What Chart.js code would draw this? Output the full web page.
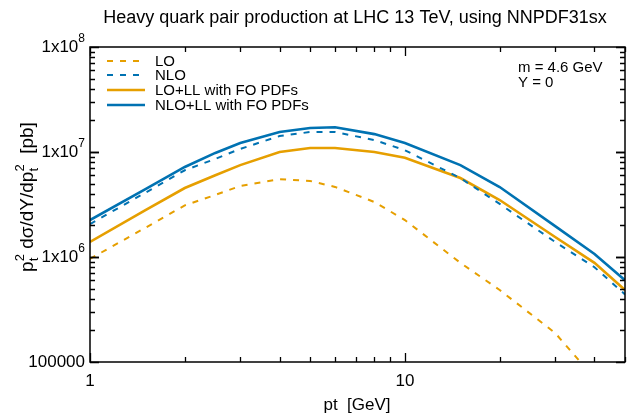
<!DOCTYPE html>
<html>
<head>
<meta charset="utf-8">
<script src="https://cdn.jsdelivr.net/npm/chart.js@4/dist/chart.umd.min.js"></script>
<style>
  html, body { margin: 0; padding: 0; background: #fff; }
  #wrap { width: 627px; height: 417px; }
</style>
</head>
<body>
<div id="wrap"><canvas id="ptChart" width="627" height="417"></canvas></div>
<script>
// pt points [GeV]
var ptValues = [1, 1.5, 2, 2.5, 3, 4, 5, 6, 8, 10, 15, 20, 30, 40, 50];

// p_t^2 dsigma/dY/dp_t^2 [pb]
var loValues    = [9.6e5, 1.9e6, 3.1e6, 3.9e6, 4.75e6, 5.5e6, 5.3e6, 4.65e6, 3.34e6, 2.25e6, 8.8e5, 4.85e5, 1.89e5, 7.0e4, 3.4e4];
var nloValues   = [2.06e6, 4.1e6, 6.7e6, 8.6e6, 1.07e7, 1.42e7, 1.55e7, 1.55e7, 1.3e7, 1.04e7, 5.65e6, 3.2e6, 1.39e6, 8.0e5, 4.4e5];
var loLLValues  = [1.39e6, 2.8e6, 4.54e6, 6.0e6, 7.5e6, 1.0e7, 1.09e7, 1.09e7, 1.0e7, 8.8e6, 5.65e6, 3.49e6, 1.55e6, 8.8e5, 4.85e5];
var nloLLValues = [2.25e6, 4.44e6, 7.2e6, 9.8e6, 1.22e7, 1.55e7, 1.69e7, 1.72e7, 1.48e7, 1.22e7, 7.5e6, 4.64e6, 1.97e6, 1.07e6, 6.0e5];

var seriesNames = ["LO", "NLO", "LO+LL with FO PDFs", "NLO+LL with FO PDFs"];

var xTickLabels = ["1", "10"];
var yTickValues = [1e5, 1e6, 1e7, 1e8];
var yTickExps = ["", "6", "7", "8"];

var orange = "#E69F00";
var blue = "#0072B2";
var FONT = "'Liberation Sans', Arial, sans-serif";

function pts(vals) {
    return ptValues.map(function(x, i) { return {x: x, y: vals[i]}; });
}

// ticks, box, labels, legend drawn by hand (gnuplot style)
var decor = {
    id: 'decor',
    afterDatasetsDraw: function(chart) {
        var ctx = chart.ctx, a = chart.chartArea;
        var xs = chart.scales.x, ys = chart.scales.y;
        ctx.save();

        // frame
        ctx.strokeStyle = "#000";
        ctx.lineWidth = 1.5;
        ctx.strokeRect(a.left, a.top, a.right - a.left, a.bottom - a.top);

        // y ticks
        ctx.lineWidth = 1.3;
        for (var e = 5; e < 8; e++) {
            for (var m = 1; m <= 10; m++) {
                var v = m * Math.pow(10, e);
                var py = Math.round(ys.getPixelForValue(v)) + 0.5;
                var len = (m === 1 || m === 10) ? 9 : 5;
                ctx.beginPath();
                ctx.moveTo(a.left, py); ctx.lineTo(a.left + len, py);
                ctx.moveTo(a.right, py); ctx.lineTo(a.right - len, py);
                ctx.stroke();
            }
        }
        // x ticks
        var xt = [1, 2, 3, 4, 5, 6, 7, 8, 9, 10, 20, 30, 40, 50];
        xt.forEach(function(v) {
            var px = Math.round(xs.getPixelForValue(v)) + 0.5;
            var len = (v === 1 || v === 10) ? 9 : 5;
            ctx.beginPath();
            ctx.moveTo(px, a.bottom); ctx.lineTo(px, a.bottom - len);
            ctx.moveTo(px, a.top); ctx.lineTo(px, a.top + len);
            ctx.stroke();
        });

        ctx.fillStyle = "#000";
        // x tick labels
        ctx.font = "17px " + FONT;
        ctx.textAlign = "center";
        ctx.textBaseline = "middle";
        [1, 10].forEach(function(v, i) {
            ctx.fillText(xTickLabels[i], xs.getPixelForValue(v), a.bottom + 19);
        });

        // y tick labels with superscript exponent
        yTickValues.forEach(function(v, i) {
            var py = ys.getPixelForValue(v);
            var right = a.left - 5;
            ctx.textBaseline = "middle";
            if (yTickExps[i] === "") {
                ctx.font = "17px " + FONT;
                ctx.textAlign = "right";
                ctx.fillText("100000", right, py);
            } else {
                ctx.font = "12px " + FONT;
                ctx.textAlign = "right";
                var ew = ctx.measureText(yTickExps[i]).width;
                ctx.fillText(yTickExps[i], right, py - 8);
                ctx.font = "17px " + FONT;
                ctx.fillText("1x10", right - ew, py);
            }
        });

        // title
        ctx.font = "18px " + FONT;
        ctx.textAlign = "center";
        ctx.textBaseline = "middle";
        ctx.fillText("Heavy quark pair production at LHC 13 TeV, using NNPDF31sx", 355, 18);

        // x title
        ctx.font = "17px " + FONT;
        ctx.fillText("pt  [GeV]", 357, 405);

        // y title (rotated, with sub/superscripts)
        ctx.save();
        ctx.translate(33, 197);
        ctx.rotate(-Math.PI / 2);
        var parts = [
            ["p", 0, 19], ["t", 5, 13], ["2", -9, 13], [" d\u03c3/dY/dp", 0, 19],
            ["t", 5, 13], ["2", -9, 13], ["  [pb]", 0, 19]
        ];
        var widths = [];
        parts.forEach(function(p) {
            ctx.font = p[2] + "px " + FONT;
            widths.push(ctx.measureText(p[0]).width);
        });
        // sub+sup pairs share the same horizontal slot
        var xpos = [], cx = 0;
        for (var i = 0; i < parts.length; i++) {
            if (parts[i][1] < 0 && i > 0 && parts[i - 1][1] > 0) {
                xpos.push(xpos[i - 1]);
                cx = Math.max(cx, xpos[i] + widths[i]);
            } else {
                xpos.push(cx);
                cx += widths[i];
            }
        }
        var total = cx;
        ctx.textAlign = "left";
        ctx.textBaseline = "alphabetic";
        parts.forEach(function(p, i) {
            ctx.font = p[2] + "px " + FONT;
            ctx.fillText(p[0], xpos[i] - total / 2, p[1]);
        });
        ctx.restore();

        // legend
        var legY = [61, 75, 90, 105];
        var legStyle = [[orange, true], [blue, true], [orange, false], [blue, false]];
        ctx.font = "15px " + FONT;
        ctx.textAlign = "left";
        ctx.textBaseline = "middle";
        for (var k = 0; k < 4; k++) {
            ctx.strokeStyle = legStyle[k][0];
            ctx.lineWidth = legStyle[k][1] ? 2 : 2.6;
            ctx.setLineDash(legStyle[k][1] ? [6, 7] : []);
            ctx.beginPath();
            ctx.moveTo(107, legY[k]);
            ctx.lineTo(legStyle[k][1] ? 142 : 145, legY[k]);
            ctx.stroke();
            ctx.setLineDash([]);
            ctx.fillStyle = "#000";
            ctx.fillText(seriesNames[k], 155, legY[k] + 1);
        }

        // annotation
        ctx.font = "15px " + FONT;
        ctx.fillText("m = 4.6 GeV", 518, 68);
        ctx.fillText("Y = 0", 518, 83);

        ctx.restore();
    }
};

var ctx = document.getElementById("ptChart").getContext("2d");
new Chart(ctx, {
    type: 'line',
    data: {
        datasets: [
            {label: seriesNames[0], data: pts(loValues), borderColor: orange, borderWidth: 2, borderDash: [6, 7]},
            {label: seriesNames[1], data: pts(nloValues), borderColor: blue, borderWidth: 2, borderDash: [6, 7]},
            {label: seriesNames[2], data: pts(loLLValues), borderColor: orange, borderWidth: 2.6},
            {label: seriesNames[3], data: pts(nloLLValues), borderColor: blue, borderWidth: 2.6}
        ]
    },
    options: {
        responsive: false,
        animation: false,
        devicePixelRatio: 1,
        layout: {padding: {top: 47, right: 2, left: 0, bottom: 0}},
        elements: {point: {radius: 0}, line: {tension: 0, fill: false}},
        plugins: {legend: {display: false}, tooltip: {enabled: false}},
        scales: {
            x: {
                type: 'logarithmic', min: 1, max: 50,
                grid: {display: false}, border: {display: false},
                ticks: {display: false},
                afterFit: function(s) { s.height = 55; }
            },
            y: {
                type: 'logarithmic', min: 1e5, max: 1e8,
                grid: {display: false}, border: {display: false},
                ticks: {display: false},
                afterFit: function(s) { s.width = 90; }
            }
        }
    },
    plugins: [decor]
});
</script>
</body>
</html>
